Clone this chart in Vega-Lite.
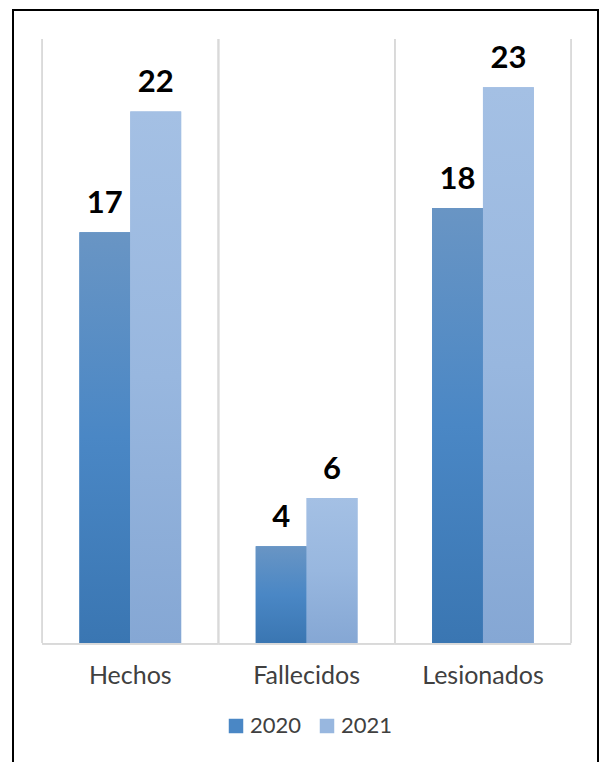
{
  "$schema": "https://vega.github.io/schema/vega-lite/v6.json",
  "width": 585,
  "height": 770,
  "autosize": "none",
  "padding": {"left": 13, "top": 10, "right": 3, "bottom": 0},
  "background": "#ffffff",
  "data": {
    "values": [
      {"categoria": "Hechos", "anio": "2020", "valor": 17},
      {"categoria": "Hechos", "anio": "2021", "valor": 22},
      {"categoria": "Fallecidos", "anio": "2020", "valor": 4},
      {"categoria": "Fallecidos", "anio": "2021", "valor": 6},
      {"categoria": "Lesionados", "anio": "2020", "valor": 18},
      {"categoria": "Lesionados", "anio": "2021", "valor": 23}
    ]
  },
  "layer": [
    {
      "mark": {"type": "rule", "color": "#d9d9d9", "strokeWidth": 1.5},
      "encoding": {
        "x": {
          "field": "categoria",
          "type": "nominal",
          "bandPosition": 0,
          "scale": {"domain": ["Hechos", "Fallecidos", "Lesionados"], "paddingInner": 0, "paddingOuter": 0.1588, "align": 0.52},
          "axis": {
            "orient": "bottom",
            "offset": -105,
            "title": null,
            "domain": false,
            "ticks": false,
            "grid": false,
            "labelPadding": 0,
            "labelBaseline": "middle",
            "labelAngle": 0,
            "labelFont": "Lato",
            "labelFontSize": 25,
            "labelColor": "#404040",
            "bandPosition": 0.5
          }
        },
        "y": {
          "datum": 0,
          "type": "quantitative",
          "scale": {"domain": [-5.67, 26.2], "nice": false, "zero": false},
          "axis": null
        },
        "y2": {"datum": 25}
      }
    },
    {
      "mark": {"type": "rule", "color": "#d9d9d9", "strokeWidth": 1.5},
      "encoding": {
        "x": {"field": "categoria", "type": "nominal", "bandPosition": 1},
        "y": {"datum": 0, "type": "quantitative"},
        "y2": {"datum": 25}
      }
    },
    {
      "mark": {"type": "bar", "color": "#d9d9d9"},
      "encoding": {
        "x": {"field": "categoria", "type": "nominal"},
        "y": {"datum": 0, "type": "quantitative"},
        "y2": {"datum": -0.07}
      }
    },
    {
      "mark": {"type": "bar"},
      "encoding": {
        "x": {"field": "categoria", "type": "nominal"},
        "xOffset": {
          "field": "anio",
          "type": "nominal",
          "scale": {"paddingInner": 0, "paddingOuter": 0.733}
        },
        "y": {"field": "valor", "type": "quantitative"},
        "color": {
          "field": "anio",
          "type": "nominal",
          "scale": {"domain": ["2020", "2021"], "range": ["#4a87c5", "#98b7df"]},
          "legend": {
            "orient": "none",
            "legendX": 212,
            "legendY": 705,
            "direction": "horizontal",
            "title": null,
            "padding": 0,
            "symbolType": "square",
            "symbolSize": 210,
            "symbolStrokeWidth": 0,
            "symbolOpacity": 1,
            "labelFont": "Lato",
            "labelFontSize": 22,
            "labelColor": "#404040",
            "labelOffset": 3,
            "columnPadding": 14
          }
        }
      }
    },
    {
      "transform": [{"filter": "datum.anio == '2020'"}],
      "mark": {
        "type": "bar",
        "color": {"gradient": "linear", "x1": 0, "y1": 0, "x2": 0, "y2": 1,
          "stops": [{"offset": 0, "color": "#6995c4"}, {"offset": 0.5, "color": "#4a87c5"}, {"offset": 1, "color": "#3a76b2"}]}
      },
      "encoding": {
        "x": {"field": "categoria", "type": "nominal"},
        "xOffset": {"field": "anio", "type": "nominal"},
        "y": {"field": "valor", "type": "quantitative"}
      }
    },
    {
      "transform": [{"filter": "datum.anio == '2021'"}],
      "mark": {
        "type": "bar",
        "color": {"gradient": "linear", "x1": 0, "y1": 0, "x2": 0, "y2": 1,
          "stops": [{"offset": 0, "color": "#a4c0e4"}, {"offset": 0.5, "color": "#98b7df"}, {"offset": 1, "color": "#85a7d4"}]}
      },
      "encoding": {
        "x": {"field": "categoria", "type": "nominal"},
        "xOffset": {"field": "anio", "type": "nominal"},
        "y": {"field": "valor", "type": "quantitative"}
      }
    },
    {
      "mark": {
        "type": "text",
        "font": "Lato",
        "fontSize": 31,
        "fontWeight": "bold",
        "color": "#000000",
        "baseline": "alphabetic",
        "dy": -19
      },
      "encoding": {
        "x": {"field": "categoria", "type": "nominal"},
        "xOffset": {"field": "anio", "type": "nominal"},
        "y": {"field": "valor", "type": "quantitative"},
        "text": {"field": "valor", "type": "quantitative"}
      }
    }
  ],
  "config": {
    "view": {"stroke": "#000000", "strokeWidth": 2}
  }
}
